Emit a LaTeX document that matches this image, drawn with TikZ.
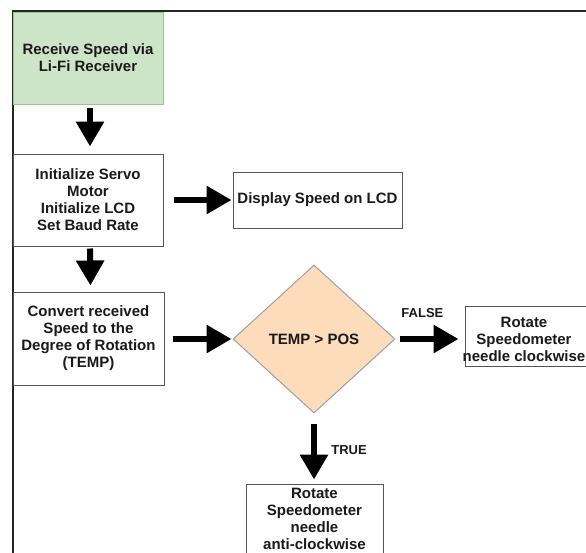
\documentclass[tikz,border=0pt]{standalone}
\usepackage{fontspec}
\setmainfont{Liberation Sans}
\usetikzlibrary{arrows.meta,shapes.geometric}
\definecolor{gfill}{HTML}{CDE4C9}
\definecolor{gline}{HTML}{96C68C}
\definecolor{pfill}{HTML}{FDDCBC}
\definecolor{pline}{HTML}{A0A0A0}
\definecolor{bline}{HTML}{555555}
\definecolor{txt}{HTML}{1A1A1A}
\begin{document}
\begin{tikzpicture}[x=1pt,y=-1pt,
  base/.style={font=\fontsize{15}{17}\selectfont\bfseries, align=center, inner sep=0pt, text=txt},
  box/.style={base, draw=bline, line width=1pt, fill=white},
  arr/.style={line width=6pt, -{Triangle[length=25pt,width=27pt]}, black},
  lbl/.style={base, font=\fontsize{13}{15}\selectfont\bfseries}
]
\useasboundingbox (0,0) rectangle (586,552);
\clip (0,0) rectangle (586,552);
\fill[white] (0,0) rectangle (586,552);
\draw[line width=2pt, black!85] (12.5,700) -- (12.5,10.5) -- (700,10.5);

\node[box, fill=gfill, draw=gline, minimum width=150pt, minimum height=92pt] (g) at (88,58) {Receive Speed via\\Li-Fi Receiver};
\node[box, minimum width=150pt, minimum height=92pt] (b2) at (88,200) {Initialize Servo\\Motor\\Initialize LCD\\Set Baud Rate};
\node[box, minimum width=169pt, minimum height=56pt] (disp) at (317.5,200) {Display Speed on LCD};
\node[box, minimum width=151pt, minimum height=93pt] (b3) at (88.5,338.5) {Convert received\\Speed to the\\Degree of Rotation\\(TEMP)};
\node[base, diamond, draw=pline, line width=1pt, fill=pfill, minimum width=162pt, minimum height=148pt, aspect=1.095] (d) at (314,339) {TEMP > POS};
\node[box, minimum width=140pt, minimum height=60pt,
  label={[base, xshift=-11pt, yshift=-3.5pt]center:Rotate\\Speedometer\\needle clockwise}] (r) at (535,336) {};
\node[box, minimum width=137pt, minimum height=70pt] (bt) at (314.5,519) {Rotate\\Speedometer\\needle\\anti-clockwise};

\draw[arr, shorten <=3pt, shorten >=7pt] ([xshift=2pt]g.south) -- ([xshift=2pt]b2.north);
\draw[arr, shorten <=10pt, shorten >=1pt] (b2.east) -- (disp.west);
\draw[arr, shorten <=2pt, shorten >=6pt] ([xshift=2pt]b2.south) -- ([xshift=2pt]b3.north);
\draw[arr, shorten <=8pt, shorten >=1pt] (b3.east |- d.west) -- (d.west);
\draw[arr, shorten <=4pt, shorten >=6pt] (d.east) -- (r.west |- d.east)
  node[lbl, pos=0.39, yshift=26pt] {FALSE};
\draw[arr, shorten <=10pt, shorten >=4pt] (d.south) -- (bt.north -| d.south)
  node[lbl, pos=0.52, xshift=35pt] {TRUE};
\end{tikzpicture}
\end{document}
